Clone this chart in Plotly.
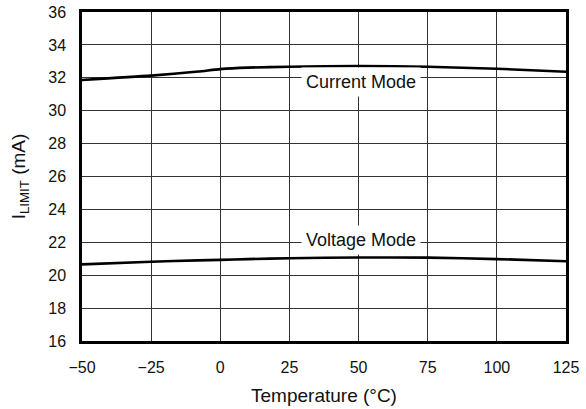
import plotly.graph_objects as go

# ==========================================================
# Data
# ==========================================================

temperature = [-50, -25, -8, 0, 10, 25, 50, 75, 100, 125]
current_mode = [31.87, 32.13, 32.38, 32.53, 32.62, 32.67, 32.72, 32.67, 32.55, 32.37]
voltage_mode = [20.66, 20.82, 20.9, 20.93, 20.98, 21.03, 21.08, 21.07, 20.98, 20.85]

x_ticks = [-50, -25, 0, 25, 50, 75, 100, 125]
y_ticks = [16, 18, 20, 22, 24, 26, 28, 30, 32, 34, 36]

FONT = "Liberation Sans, Arial, sans-serif"

# ==========================================================
# Figure
# ==========================================================

fig = go.Figure()

for values in [current_mode, voltage_mode]:
    fig.add_trace(
        go.Scatter(
            x=temperature,
            y=values,
            mode="lines",
            line=dict(color="black", width=2.6, shape="spline", smoothing=0.6),
            showlegend=False
        )
    )

for label, y in [("Current Mode", 31.74), ("Voltage Mode", 22.14)]:
    fig.add_annotation(
        x=51, y=y,
        text=label,
        showarrow=False,
        font=dict(family=FONT, size=18, color="#111111"),
        bgcolor="white",
        borderpad=4
    )

fig.update_layout(
    width=586,
    height=409,
    paper_bgcolor="white",
    plot_bgcolor="white",
    font=dict(family=FONT, size=16, color="#111111"),
    margin=dict(l=82, r=20, t=12, b=68)
)

fig.update_xaxes(
    range=[-50, 125],
    tickvals=x_ticks,
    automargin=False,
    showgrid=True,
    gridcolor="#333333",
    gridwidth=1,
    showline=True,
    linecolor="black",
    linewidth=2.5,
    mirror=True,
    ticks="outside",
    ticklen=10,
    tickcolor="rgba(0,0,0,0)",
    zeroline=False,
    title=dict(text="Temperature (°C)", standoff=14)
)

fig.update_yaxes(
    range=[16, 36],
    tickvals=y_ticks,
    automargin=False,
    showgrid=True,
    gridcolor="#333333",
    gridwidth=1,
    showline=True,
    linecolor="black",
    linewidth=2.5,
    mirror=True,
    ticks="outside",
    ticklen=10,
    tickcolor="rgba(0,0,0,0)",
    zeroline=False,
    title=dict(text="I<sub>LIMIT</sub> (mA)", standoff=18)
)

# the page body has a default 8px margin; drop it so the chart fills the window
fig.write_html(
    "out.html",
    config={"displayModeBar": False},
    post_script="document.body.style.margin='0';"
)
